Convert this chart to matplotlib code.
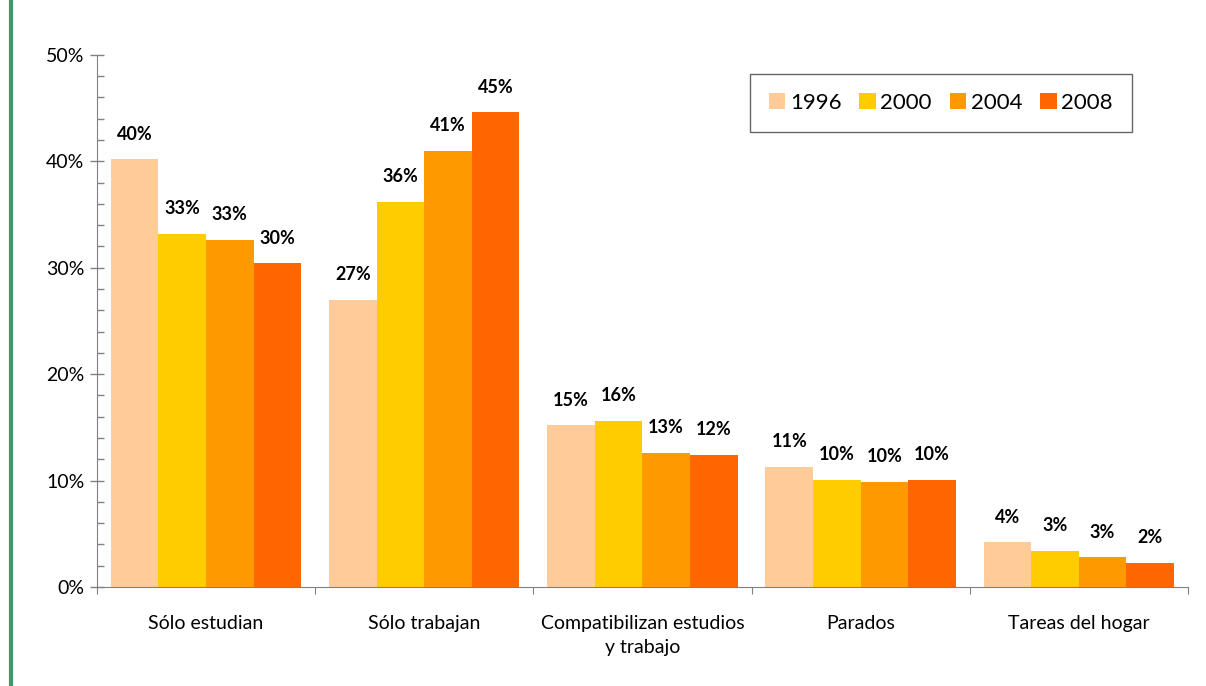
import numpy as np
import matplotlib.pyplot as plt
from matplotlib.lines import Line2D
from matplotlib.ticker import MultipleLocator, FuncFormatter

plt.rcParams['font.family'] = ['Lato', 'DejaVu Sans']

categories = ['Sólo estudian', 'Sólo trabajan', 'Compatibilizan estudios\ny trabajo',
              'Parados', 'Tareas del hogar']
years = ['1996', '2000', '2004', '2008']
v1996 = [40.2, 27.0, 15.2, 11.3, 4.2]
v2000 = [33.2, 36.2, 15.6, 10.1, 3.4]
v2004 = [32.6, 41.0, 12.6, 9.9, 2.8]
v2008 = [30.4, 44.6, 12.4, 10.1, 2.3]
colors = ['#FFCC99', '#FFCC00', '#FF9900', '#FF6600']

series = [v1996, v2000, v2004, v2008]

fig = plt.figure(figsize=(12.06, 6.86), dpi=100)
ax = fig.add_axes([0.0804, 0.1443, 0.9046, 0.7757])

x = np.arange(len(categories))
w = 0.218
for i, (vals, col, yr) in enumerate(zip(series, colors, years)):
    pos = x + (i - 1.5) * w
    bars = ax.bar(pos, vals, w, color=col, label=yr, linewidth=0)
    for b, v in zip(bars, vals):
        ax.annotate(f'{round(v):d}%', (b.get_x() + b.get_width() / 2, v),
                    xytext=(0, 12), textcoords='offset points',
                    ha='center', va='bottom', fontsize=13, fontweight='bold')

ax.set_xlim(-0.5, len(categories) - 0.5)
ax.set_ylim(0, 50)
ax.yaxis.set_major_locator(MultipleLocator(10))
ax.yaxis.set_minor_locator(MultipleLocator(2))
ax.yaxis.set_major_formatter(FuncFormatter(lambda v, p: f'{v:.0f}%'))
ax.tick_params(axis='y', which='major', direction='inout', length=10, width=1,
               color='#808080', labelsize=14, pad=4)
ax.tick_params(axis='y', which='minor', direction='in', length=5, width=1, color='#808080')

ax.set_xticks(np.arange(-0.5, len(categories), 1.0))
ax.set_xticklabels([])
ax.set_xticks(x, minor=True)
ax.set_xticklabels(categories, minor=True, fontsize=14, linespacing=1.55)
ax.tick_params(axis='x', which='minor', length=0, pad=20)
ax.tick_params(axis='x', which='major', direction='out', length=5, color='#808080')

for s in ['top', 'right']:
    ax.spines[s].set_visible(False)
for s in ['left', 'bottom']:
    ax.spines[s].set_color('#808080')

leg = ax.legend(loc='upper right', bbox_to_anchor=(0.9585, 0.985), ncol=4, fontsize=16,
                frameon=True, fancybox=False, edgecolor='#404040',
                handlelength=0.75, handleheight=0.75, handletextpad=0.2,
                columnspacing=0.8, borderpad=0.85)
leg.get_frame().set_linewidth(1.0)

fig.add_artist(Line2D([0.0095, 0.0095], [0, 1], transform=fig.transFigure,
                      color='#3A9A6A', linewidth=3))

fig.savefig('out.png', dpi=100)
